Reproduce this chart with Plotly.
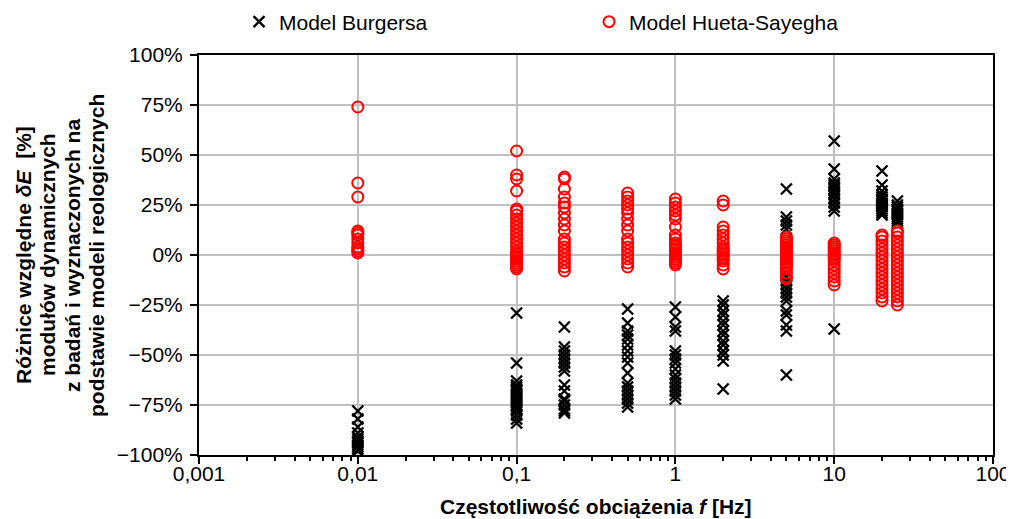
import plotly.graph_objects as go

# Frequencies [Hz]
freqs = [0.01, 0.1, 0.2, 0.5, 1, 2, 5, 10, 20, 25]

# Model Burgersa - relative differences [%]
bu_0_01 = [-78, -82, -86, -89, -91, -92, -93, -94, -95, -96, -97, -98]
bu_0_1 = [-29, -54, -63, -65, -66, -67, -68, -69, -70, -71, -72, -73, -74, -75, -76, -77, -78, -80, -82, -84]
bu_0_2 = [-36, -46, -48, -50, -52, -54, -56, -58, -65, -68, -72, -73, -75, -77, -78, -79]
bu_0_5 = [-27, -34, -38, -40, -42, -45, -48, -51, -54, -59, -64, -66, -68, -70, -72, -74, -76]
bu_1 = [-26, -31, -36, -38, -48, -50, -52, -54, -57, -60, -62, -64, -66, -68, -70, -72]
bu_2 = [-23, -25, -28, -30, -33, -35, -38, -40, -43, -45, -48, -50, -53, -67]
bu_5 = [33, 19, 17, 15, 13, -11, -13, -15, -17, -19, -21, -23, -28, -30, -35, -38, -60]
bu_10 = [57, 43, 38, 36, 35, 34, 33, 32, 31, 30, 28, 26, 24, 22, -37]
bu_20 = [42, 35, 32, 30, 29, 28, 27, 26, 25, 24, 23, 22, 21, 20]
bu_25 = [27, 25, 24, 23, 22, 21, 20, 19, 18, 17, 16]

# Model Hueta-Sayegha - relative differences [%]
hs_0_01 = [74, 36, 29, 12, 11, 10, 8, 6, 4, 3, 2, 1]
hs_0_1 = [52, 40, 38, 32, 23, 22, 20, 18, 16, 14, 12, 10, 8, 6, 4, 2, 1, 0, -1, -2, -3, -4, -5, -6, -7]
hs_0_2 = [39, 38, 33, 29, 26, 24, 21, 18, 15, 12, 8, 6, 4, 2, 0, -2, -4, -6, -8]
hs_0_5 = [31, 29, 27, 25, 23, 21, 18, 15, 12, 8, 6, 4, 2, 0, -2, -4, -6]
hs_1 = [28, 26, 24, 22, 20, 18, 14, 10, 8, 6, 5, 4, 3, 2, 1, 0, -1, -2, -3, -4, -5]
hs_2 = [27, 25, 14, 12, 10, 8, 6, 4, 3, 2, 1, 0, -1, -2, -3, -5, -7]
hs_5 = [9, 8, 7, 6, 5, 4, 3, 2, 1, 0, -1, -2, -3, -4, -5, -6, -7, -9, -11, -12]
hs_10 = [6, 5, 4, 3, 2, 1, 0, -1, -2, -3, -5, -7, -9, -11, -13, -15]
hs_20 = [10, 9, 7, 5, 3, 1, -1, -3, -5, -7, -9, -11, -13, -15, -17, -19, -21, -23]
hs_25 = [12, 11, 9, 7, 5, 3, 1, -1, -3, -5, -7, -9, -11, -13, -15, -17, -19, -21, -23, -25]

x_tick_vals = [0.001, 0.01, 0.1, 1, 10, 100]
x_tick_text = ["0,001", "0,01", "0,1", "1", "10", "100"]

y_title_lines = [
    "Różnice względne <i>δE</i>  [%]",
    "modułów dynamicznych",
    "z badań i wyznaczonych na",
    "podstawie modeli reologicznych",
]
x_title = "Częstotliwość obciążenia <i>f</i> [Hz]"

bu_groups = [bu_0_01, bu_0_1, bu_0_2, bu_0_5, bu_1, bu_2, bu_5, bu_10, bu_20, bu_25]
hs_groups = [hs_0_01, hs_0_1, hs_0_2, hs_0_5, hs_1, hs_2, hs_5, hs_10, hs_20, hs_25]


def flatten(groups):
    xs, ys = [], []
    for f, g in zip(freqs, groups):
        xs += [f] * len(g)
        ys += g
    return xs, ys


bx, by = flatten(bu_groups)
hx, hy = flatten(hs_groups)

# minor log ticks 2..9 within each decade
minor_vals = [m * 10.0 ** k for k in range(-3, 2) for m in range(2, 10)]

FONT = "Liberation Sans, Arial, sans-serif"

fig = go.Figure()
fig.add_trace(go.Scatter(
    x=bx, y=by, mode="markers", name="Model Burgersa",
    marker=dict(symbol="x-thin-open", size=11, color="black",
                line=dict(color="black", width=2.4)),
))
fig.add_trace(go.Scatter(
    x=hx, y=hy, mode="markers", name="Model Hueta-Sayegha",
    marker=dict(symbol="circle-open", size=11, color="#ff0000",
                line=dict(color="#ff0000", width=2)),
))

annotations = []
# y title lines (rotated), placed at their x-pixel centres
PLOT_L, PLOT_W = 199, 794
for i, (line, cx) in enumerate(zip(y_title_lines, [23, 47, 72, 96])):
    annotations.append(dict(
        text="<b>" + line + "</b>", xref="paper", yref="paper",
        x=(cx - PLOT_L) / PLOT_W, y=0.5, xanchor="center", yanchor="middle",
        textangle=-90, showarrow=False,
        font=dict(family=FONT, size=21, color="black")))
annotations.append(dict(
    text="<b>" + x_title + "</b>", xref="paper", yref="paper",
    x=0.5, y=-0.128, xanchor="center", yanchor="middle", showarrow=False,
    font=dict(family=FONT, size=21, color="black")))

fig.update_layout(
    width=1014, height=519,
    margin=dict(l=191, r=29, t=47, b=72, autoexpand=False),
    plot_bgcolor="white", paper_bgcolor="white",
    font=dict(family=FONT, size=21, color="black"),
    showlegend=True,
    legend=dict(orientation="h", x=0.0504, y=1.0825, xanchor="left",
                yanchor="middle", bgcolor="rgba(0,0,0,0)",
                font=dict(size=21), itemwidth=30, entrywidth=305,
                entrywidthmode="pixels", tracegroupgap=0),
    annotations=annotations,
)

fig.update_xaxes(
    type="log", range=[-3, 2],
    tickmode="array", tickvals=x_tick_vals, ticktext=x_tick_text,
    showgrid=True, gridcolor="#c0c0c0", gridwidth=1.5,
    showline=True, linecolor="black", linewidth=2, mirror=True,
    ticks="outside", ticklen=7, tickcolor="black", tickwidth=1.5,
    ticklabelstandoff=-8,
    minor=dict(tickmode="array", tickvals=minor_vals, ticks="outside",
               ticklen=4, tickcolor="black", tickwidth=1.5, showgrid=False),
    zeroline=False,
)
fig.update_yaxes(
    range=[-100, 100], tickmode="linear", tick0=-100, dtick=25, ticksuffix="%",
    showgrid=True, gridcolor="#c0c0c0", gridwidth=1.5,
    showline=True, linecolor="black", linewidth=2, mirror=True,
    ticks="outside", ticklen=7, tickcolor="black", tickwidth=1.5,
    ticklabelstandoff=3, zeroline=False,
)

fig.write_html("out.html")
